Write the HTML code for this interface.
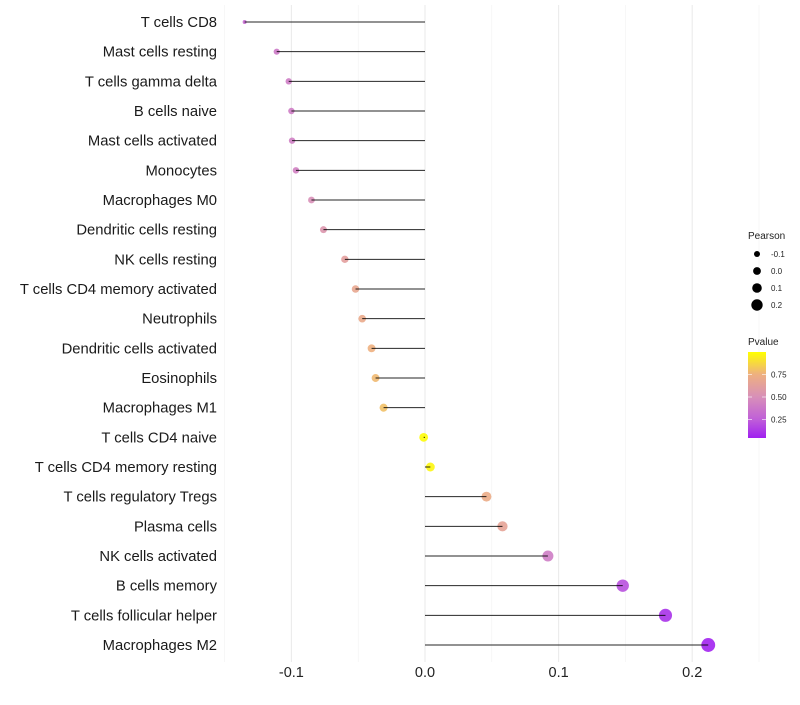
<!DOCTYPE html>
<html><head><meta charset="utf-8"><style>
body{margin:0;background:#fff;font-family:"Liberation Sans",sans-serif}
</style></head><body>
<svg id="c" width="800" height="700" xmlns="http://www.w3.org/2000/svg">
<defs><linearGradient id="pg" x1="0" y1="1" x2="0" y2="0">
<stop offset="0" stop-color="#a020f0"/><stop offset="0.22" stop-color="#c060d8"/><stop offset="0.48" stop-color="#d890b8"/><stop offset="0.74" stop-color="#eeb080"/><stop offset="1" stop-color="#ffff00"/></linearGradient></defs>
</svg>
<script>
const categories=["T cells CD8","Mast cells resting","T cells gamma delta","B cells naive","Mast cells activated","Monocytes","Macrophages M0","Dendritic cells resting","NK cells resting","T cells CD4 memory activated","Neutrophils","Dendritic cells activated","Eosinophils","Macrophages M1","T cells CD4 naive","T cells CD4 memory resting","T cells regulatory  Tregs ","Plasma cells","NK cells activated","B cells memory","T cells follicular helper","Macrophages M2"];
const pearson=[-0.135,-0.111,-0.102,-0.100,-0.0995,-0.0966,-0.085,-0.076,-0.060,-0.052,-0.047,-0.040,-0.037,-0.031,-0.001,0.004,0.046,0.058,0.092,0.148,0.180,0.212];
const pvalue=[0.30,0.38,0.40,0.40,0.41,0.42,0.50,0.55,0.62,0.68,0.70,0.75,0.78,0.80,0.99,0.97,0.72,0.65,0.40,0.20,0.10,0.05];
const xTicks=[-0.1,0.0,0.1,0.2];
const xTickLabels=["-0.1","0.0","0.1","0.2"];
const sizeBreaks=[-0.1,0.0,0.1,0.2];
const colorBreaks=[0.25,0.5,0.75];
const svg=document.getElementById('c');const NS="http://www.w3.org/2000/svg";
function mk(t,a,p){const e=document.createElementNS(NS,t);for(const k in a)e.setAttribute(k,a[k]);(p||svg).appendChild(e);return e;}
const x=v=>425+v*1336;
const y=i=>22+i*(623/(categories.length-1));
const r=v=>v<-0.125?2:4.4+12*v;
const rl=v=>3.9+9*v;
function col(p){const st=[[0.04,[160,32,240]],[0.25,[192,96,216]],[0.5,[216,144,184]],[0.75,[238,176,128]],[1.0,[255,255,0]]];
 if(p<=st[0][0])return `rgb(${st[0][1]})`;for(let i=1;i<st.length;i++){if(p<=st[i][0]){const t=(p-st[i-1][0])/(st[i][0]-st[i-1][0]);const c=st[i-1][1].map((a,j)=>Math.round(a+(st[i][1][j]-a)*t));return `rgb(${c})`;}}return 'rgb(255,255,0)';}
for(let k=-0.15;k<=0.25;k+=0.1){const g=mk('line',{x1:x(k),x2:x(k),y1:5,y2:662,stroke:'#f2f2f2','stroke-width':0.6});}
xTicks.forEach((t,i)=>{const g=mk('line',{x1:x(t),x2:x(t),y1:5,y2:662,stroke:'#ebebeb','stroke-width':1.1});
 const tl=mk('text',{x:x(t),y:677,'text-anchor':'middle','font-size':14.5,fill:'#222'});tl.textContent=xTickLabels[i];});
categories.forEach((c,i)=>{const yy=y(i);
 const t=mk('text',{x:217,y:yy+5,'text-anchor':'end','font-size':14.8,fill:'#1a1a1a'});t.textContent=c;
 const d=mk('circle',{cx:x(pearson[i]),cy:yy,r:r(pearson[i]),fill:col(pvalue[i]),'fill-opacity':0.9});
 const l=mk('line',{x1:x(0),x2:x(pearson[i]),y1:yy,y2:yy,stroke:'#000','stroke-width':1,'stroke-opacity':0.85});
});
const lt=mk('text',{x:748,y:239,'font-size':10,fill:'#222'});lt.textContent='Pearson';
sizeBreaks.forEach((b,i)=>{const yy=254+i*17;const c=mk('circle',{cx:757,cy:yy,r:rl(b),fill:'#000'});
 const t=mk('text',{x:771,y:yy+3,'font-size':8,fill:'#222'});t.textContent=b.toFixed(1);});
const pt=mk('text',{x:748,y:345,'font-size':10,fill:'#222'});pt.textContent='Pvalue';
const cb=mk('rect',{x:748,y:352,width:18,height:86,fill:'url(#pg)'});
colorBreaks.forEach(b=>{const yy=352+(1.0-b)*90;mk('line',{x1:748,x2:752,y1:yy,y2:yy,stroke:'#fff','stroke-opacity':0.6});mk('line',{x1:762,x2:766,y1:yy,y2:yy,stroke:'#fff','stroke-opacity':0.6});
 const t=mk('text',{x:771,y:yy+3,'font-size':8,fill:'#222'});t.textContent=b.toFixed(2);});
</script>
</body></html>
